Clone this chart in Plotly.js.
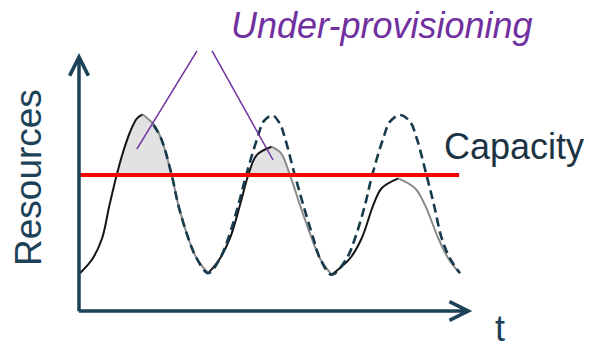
<!DOCTYPE html>
<html>
<head>
<meta charset="utf-8">
<script src="https://cdn.plot.ly/plotly-3.0.1.min.js"></script>
<style>html,body{margin:0;padding:0;background:#fff;}#chart{width:589px;height:352px;}</style>
</head>
<body>
<div id="chart"></div>
<script>
// ---- data (t and resource units 0..100) ----
const allocT = [0.25, 3.46, 5.81, 7.7, 9.52, 11.3, 13.0, 14.6, 16.09, 19.0, 20.71, 23.41, 25.08, 27.6, 29.72, 32.65, 35.6, 38.13, 40.66, 42.75, 44.87, 48.66, 51.0, 53.28, 55.81, 58.76, 60.86, 63.81, 68.43, 71.39, 74.32, 76.44, 80.63, 84.85, 87.37, 90.73, 93.26, 95.78];
const allocV = [14.6, 20.3, 28.0, 40.9, 52.5, 62.2, 69.5, 74.3, 75.9, 71.8, 66.7, 52.5, 40.9, 28.1, 20.3, 14.6, 20.3, 28.1, 40.9, 52.5, 60.2, 63.4, 61.0, 52.5, 40.9, 28.1, 20.3, 14.0, 20.3, 28.1, 40.9, 47.4, 51.2, 47.4, 40.9, 28.1, 20.3, 15.2];
const demandT = [18.8, 20.71, 23.41, 25.08, 27.6, 29.72, 32.65, 35.6, 37.7, 40.23, 42.17, 45.03, 46.72, 48.86, 50.76, 52.02, 54.55, 56.64, 59.17, 60.86, 63.81, 67.6, 69.7, 72.22, 73.99, 76.84, 78.54, 81.06, 83.59, 85.28, 87.8, 89.65, 91.59, 93.69, 96.21];
const demandV = [71.8, 66.7, 52.5, 40.9, 28.1, 20.3, 14.6, 20.3, 28.1, 40.9, 52.2, 66.7, 73.4, 75.5, 72.2, 66.7, 52.2, 40.9, 28.1, 20.3, 14.0, 20.3, 28.1, 40.9, 52.2, 66.7, 73.1, 75.7, 73.1, 66.7, 52.2, 40.9, 28.1, 20.3, 14.6];
const capacityT = [0, 96];
const capacityLevel = 52.5;

const labelCapacity = 'Capacity';
const labelUnder = 'Under-provisioning';
const labelY = 'Resources';
const labelX = 't';

// ---- styling ----
const axisColor = '#1c4257';
const traces = [];

// shaded under-provisioning areas: runs of allocation at/above capacity
let run = null;
const runs = [];
for (let i = 0; i < allocT.length; i++) {
  if (allocV[i] >= capacityLevel - 1e-9) {
    if (!run) { run = {x: [], y: []}; runs.push(run); }
    run.x.push(allocT[i]); run.y.push(allocV[i]);
  } else run = null;
}
runs.forEach(r => traces.push({
  type: 'scatter', mode: 'lines', x: r.x, y: r.y, fill: 'toself',
  fillcolor: '#e2e2e2', line: {width: 0, shape: 'spline'}, hoverinfo: 'skip'
}));

// allocation curve, split into rising (dark) and falling (grey) segments
const segs = [];
let s0 = 0;
for (let i = 1; i < allocT.length - 1; i++) {
  if ((allocV[i] - allocV[i - 1]) * (allocV[i + 1] - allocV[i]) < 0) { segs.push([s0, i]); s0 = i; }
}
segs.push([s0, allocT.length - 1]);
segs.forEach(([a, b]) => {
  const rising = allocV[b] > allocV[a];
  traces.push({
    type: 'scatter', mode: 'lines',
    x: allocT.slice(a, b + 1), y: allocV.slice(a, b + 1),
    line: {color: rising ? '#151515' : '#8a8a8a', width: 2, shape: 'spline'}
  });
});

// demand (dashed)
traces.push({
  type: 'scatter', mode: 'lines', x: demandT, y: demandV,
  line: {color: '#173a4c', width: 2.6, dash: '9px,5px', shape: 'spline'}
});

// capacity line
traces.push({
  type: 'scatter', mode: 'lines', x: capacityT, y: [capacityLevel, capacityLevel],
  line: {color: '#ff0000', width: 4}
});

const layout = {
  width: 589, height: 352,
  margin: {l: 79, r: 114, t: 52, b: 41, pad: 0},
  paper_bgcolor: '#ffffff', plot_bgcolor: '#ffffff',
  showlegend: false,
  xaxis: {range: [0, 100], visible: false, fixedrange: true},
  yaxis: {range: [0, 100], visible: false, fixedrange: true},
  font: {family: '"Liberation Sans", Arial, sans-serif'},
  shapes: [
    {type: 'line', xref: 'paper', yref: 'paper', x0: 0.298, y0: 1.004, x1: 0.146, y1: 0.625, line: {color: '#7030a0', width: 1.5}},
    {type: 'line', xref: 'paper', yref: 'paper', x0: 0.336, y0: 1.004, x1: 0.490, y1: 0.583, line: {color: '#7030a0', width: 1.5}}
  ],
  annotations: [
    // axes with arrow heads
    {xref: 'x', yref: 'y', axref: 'x', ayref: 'y', x: 0, y: 99.6, ax: 0, ay: -0.7, text: '', showarrow: true,
     arrowhead: 5, arrowsize: 1.05, arrowwidth: 3.5, arrowcolor: axisColor, standoff: 0, startstandoff: 0},
    {xref: 'x', yref: 'y', axref: 'x', ayref: 'y', x: 99.3, y: 0, ax: -0.4, ay: 0, text: '', showarrow: true,
     arrowhead: 5, arrowsize: 1.05, arrowwidth: 3.5, arrowcolor: axisColor, standoff: 0, startstandoff: 0},
    {xref: 'paper', yref: 'paper', x: 0.765, y: 1.104, xanchor: 'center', yanchor: 'middle', text: labelUnder, showarrow: false,
     font: {size: 36, color: '#7030a0', style: 'italic'}},
    {xref: 'paper', yref: 'paper', x: 0.917, y: 0.637, xanchor: 'left', yanchor: 'middle', text: labelCapacity, showarrow: false,
     font: {size: 36, color: '#1c3344'}},
    {xref: 'paper', yref: 'paper', x: 1.063, y: -0.156, xanchor: 'center', yanchor: 'bottom', text: labelX, showarrow: false,
     font: {size: 36, color: axisColor}},
    {xref: 'paper', yref: 'paper', x: -0.126, y: 0.514, xanchor: 'center', yanchor: 'middle', text: labelY, showarrow: false, textangle: -90,
     font: {size: 37, color: axisColor}}
  ]
};

Plotly.newPlot('chart', traces, layout, {displayModeBar: false, staticPlot: true});
</script>
</body>
</html>
